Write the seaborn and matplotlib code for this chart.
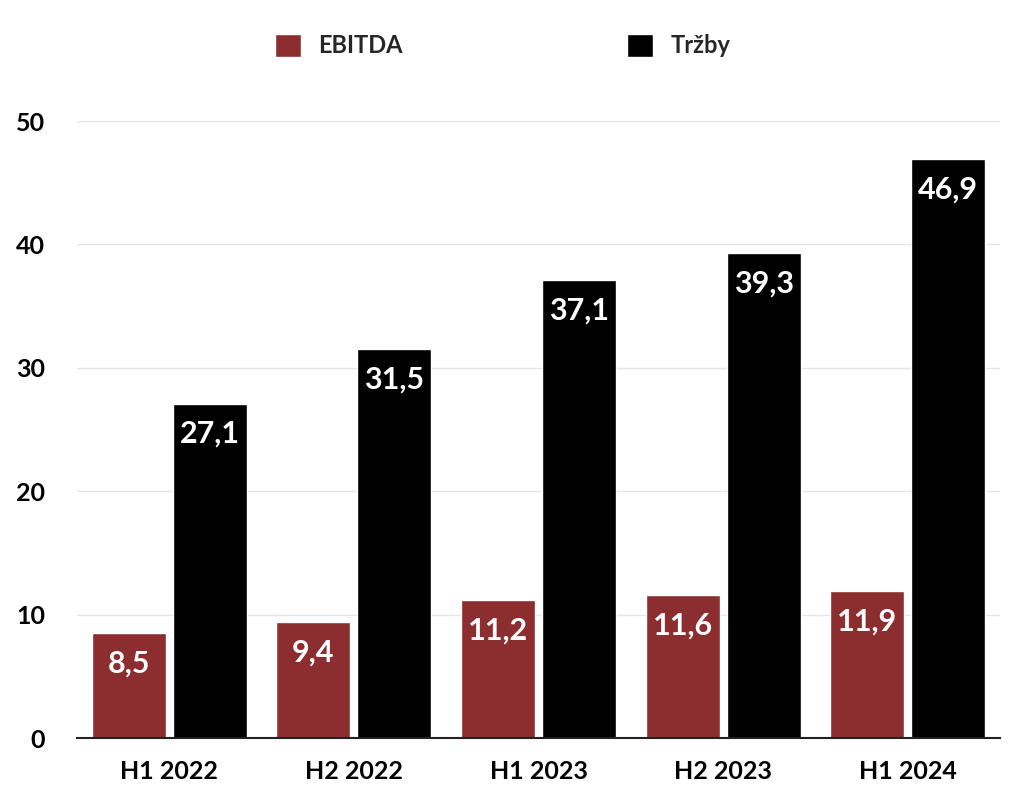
import matplotlib
matplotlib.use("Agg")
import matplotlib.pyplot as plt
import seaborn as sns
import pandas as pd

categories = ["H1 2022", "H2 2022", "H1 2023", "H2 2023", "H1 2024"]
ebitda = [8.5, 9.4, 11.2, 11.6, 11.9]
trzby = [27.1, 31.5, 37.1, 39.3, 46.9]
series_names = ["EBITDA", "Tržby"]
yticks = [0, 10, 20, 30, 40, 50]

df = pd.DataFrame({
    "period": categories * 2,
    "value": ebitda + trzby,
    "series": [series_names[0]] * len(categories) + [series_names[1]] * len(categories),
})

sns.set_theme(style="white")
plt.rcParams["font.family"] = ["Lato", "DejaVu Sans"]

fig = plt.figure(figsize=(10.22, 8.02), dpi=100)
ax = fig.add_axes([0.0753, 0.0798, 0.9032, 0.7692])

palette = {"EBITDA": "#8C2D2F", "Tržby": "#000000"}
sns.barplot(data=df, x="period", y="value", hue="series", order=categories,
            hue_order=series_names, palette=palette, width=0.878, gap=0.087,
            saturation=1, ax=ax, legend=True)

for cont in ax.containers:
    labels = [f"{v:.1f}".replace(".", ",") for v in cont.datavalues]
    ax.bar_label(cont, labels=labels, padding=-32, color="white",
                 fontsize=22, fontweight="bold")

ax.set_ylim(0, 50)
ax.set_xlim(-0.5, 4.5)
ax.set_yticks(yticks)
ax.yaxis.grid(True, color="#e6e6e6", linewidth=1)
ax.set_axisbelow(True)
ax.set_xlabel("")
ax.set_ylabel("")
for s in ["top", "right", "left"]:
    ax.spines[s].set_visible(False)
ax.spines["bottom"].set_color("#222222")
ax.spines["bottom"].set_linewidth(1.5)
ax.tick_params(axis="both", length=0, labelsize=18, labelcolor="black")
ax.tick_params(axis="y", pad=23)
ax.tick_params(axis="x", pad=16)
for t in ax.get_xticklabels() + ax.get_yticklabels():
    t.set_fontweight("bold")

ax.legend_.remove()
handles, lbls = ax.get_legend_handles_labels()
leg = fig.legend(handles[:2], lbls[:2], loc="center", bbox_to_anchor=(0.492, 0.943),
                 ncol=2, frameon=False, fontsize=17, handlelength=1.1, handleheight=1.1,
                 columnspacing=9.5, handletextpad=0.72)
for t in leg.get_texts():
    t.set_fontweight("bold")

fig.savefig("out.png", dpi=100)
